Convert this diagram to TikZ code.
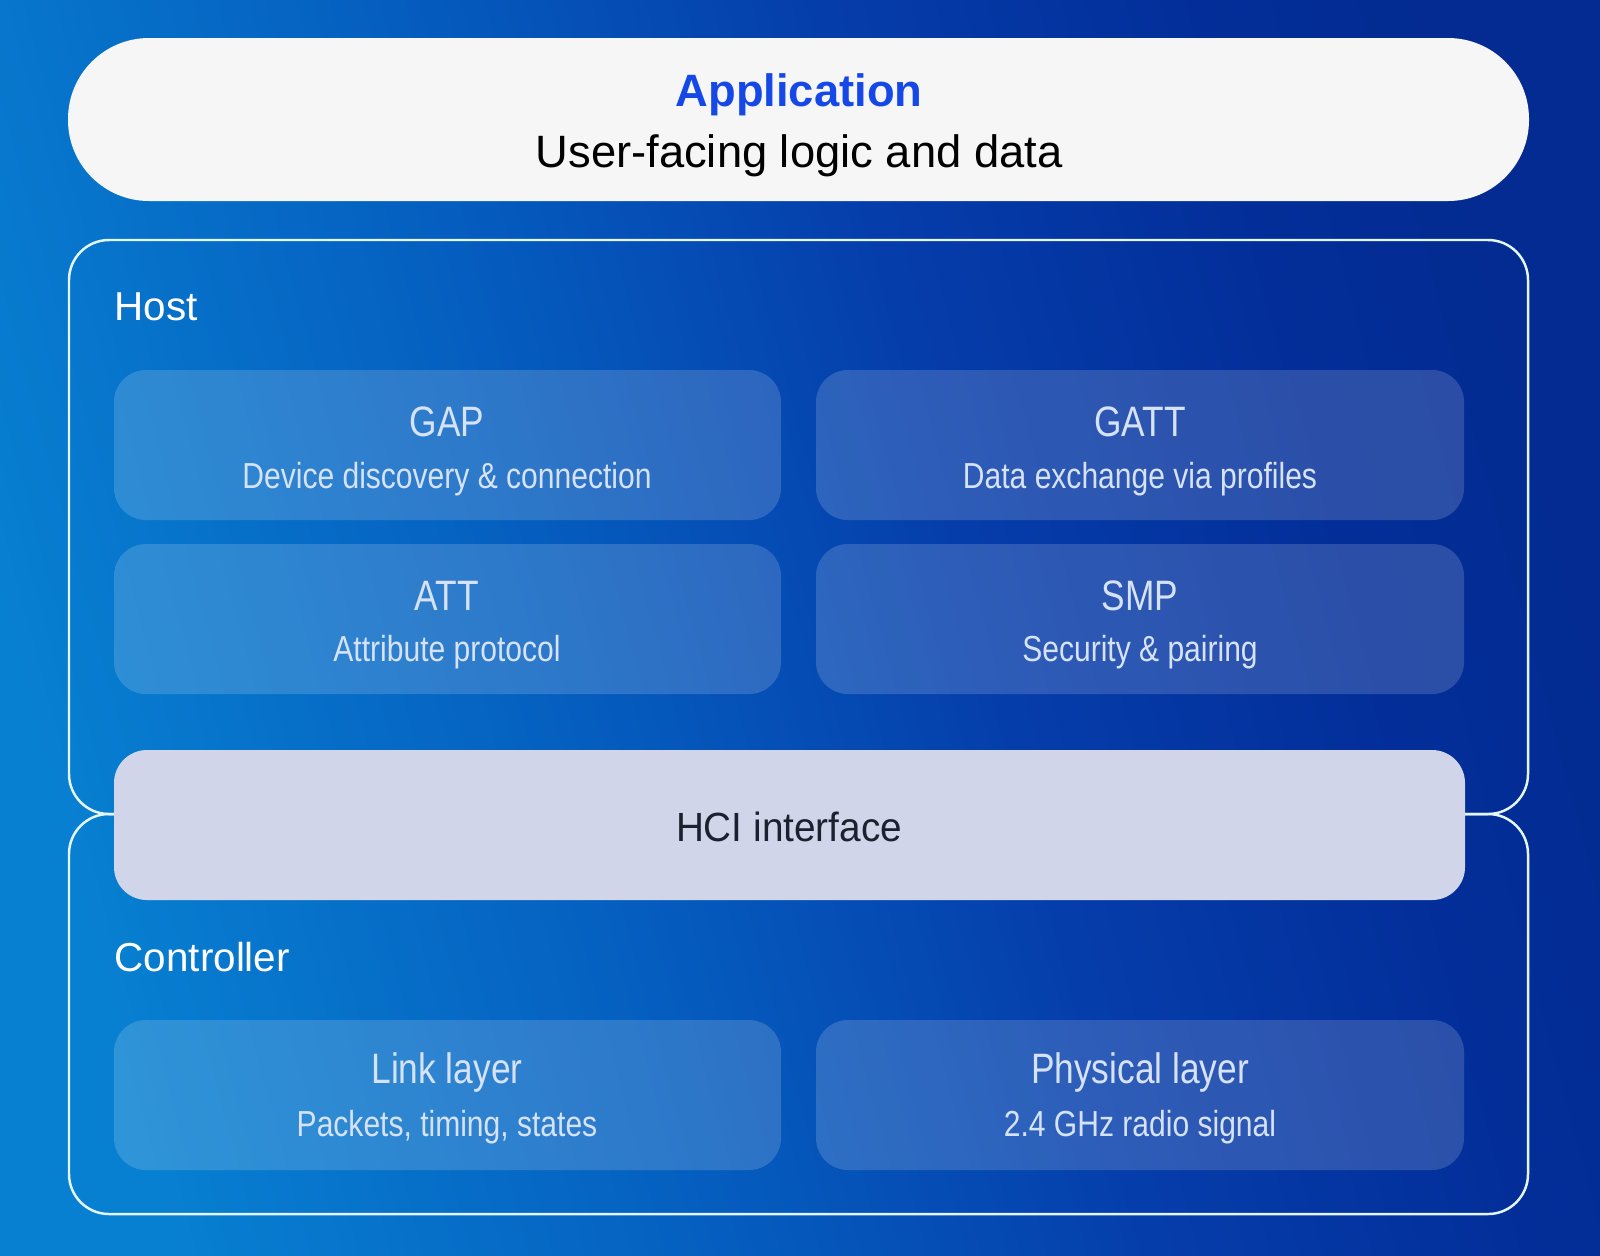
\documentclass[tikz,border=0pt]{standalone}
\usepackage{fontspec}
\setmainfont{Liberation Sans}
\newfontfamily\tightfont[FakeStretch=0.83]{Liberation Sans}
\newfontfamily\hcifont[FakeStretch=0.95]{Liberation Sans}
\usetikzlibrary{positioning}

\definecolor{appblue}{RGB}{22,72,232}
\definecolor{pillgray}{RGB}{246,246,246}
\definecolor{hcigray}{RGB}{208,213,234}
\definecolor{hcitext}{RGB}{28,33,48}
\definecolor{laytext}{RGB}{214,226,248}
\definecolor{edgewhite}{RGB}{228,246,255}

\pgfdeclarehorizontalshading{bgshade}{100bp}{rgb(0bp)=(0.03,0.50,0.82); rgb(25bp)=(0.03,0.50,0.82); rgb(42bp)=(0.02,0.37,0.75); rgb(56bp)=(0.02,0.24,0.67); rgb(68bp)=(0.01,0.18,0.60); rgb(75bp)=(0.01,0.17,0.57); rgb(100bp)=(0.01,0.17,0.57)}

\begin{document}
\begin{tikzpicture}[
    % Node styles
    pill/.style={rectangle, fill=pillgray, rounded corners=8.1mm,
                 minimum width=14.61cm, minimum height=1.63cm, inner sep=0pt},
    frame/.style={draw=edgewhite, line width=0.7pt, rounded corners=4mm},
    layer/.style={rectangle, fill=white, fill opacity=0.16, rounded corners=3.2mm,
                  minimum height=1.5cm, inner sep=0pt},
    hci/.style={rectangle, fill=hcigray, rounded corners=3.3mm,
                minimum width=13.51cm, minimum height=1.5cm, inner sep=0pt},
    ltitle/.style={text=laytext, font=\tightfont\fontsize{12.1}{14}\selectfont},
    lsub/.style={text=laytext, font=\tightfont\fontsize{10.3}{12}\selectfont},
    group/.style={text=white, anchor=west, inner sep=0pt, font=\fontsize{11.5}{13}\selectfont}
]
\useasboundingbox (0,0) rectangle (16,-12.55);

% Background
\shade[shading=bgshade, shading angle=15] (0,0) rectangle (16,-12.55);

% Application
\node[pill] (app) at (7.985,-1.195) {};
\node[text=appblue, font=\bfseries\fontsize{12.9}{15}\selectfont] (appT) at (7.99,-0.95) {Application};
\node[text=black, font=\fontsize{12.9}{15}\selectfont] (appS) at (7.99,-1.56) {User-facing logic and data};

% Host and Controller frames
\draw[frame] (0.69,-2.40) rectangle (15.28,-8.14);
\draw[frame] (0.69,-8.14) rectangle (15.28,-12.14);
\node[group] (host) at (1.14,-3.07) {Host};
\node[group] (ctrl) at (1.14,-9.57) {Controller};

% Host layers
\node[layer, minimum width=6.67cm] (gap) at (4.475,-4.45) {};
\node[layer, minimum width=6.48cm] (gatt) at (11.40,-4.45) {};
\node[layer, minimum width=6.67cm] (att) at (4.475,-6.19) {};
\node[layer, minimum width=6.48cm] (smp) at (11.40,-6.19) {};

\node[ltitle] (gapT) at (4.47,-4.22) {GAP};
\node[lsub] (gapS) at (4.47,-4.79) {Device discovery \& connection};
\node[ltitle] (gattT) at (11.40,-4.22) {GATT};
\node[lsub] (gattS) at (11.40,-4.79) {Data exchange via profiles};
\node[ltitle] (attT) at (4.47,-5.96) {ATT};
\node[lsub] (attS) at (4.47,-6.52) {Attribute protocol};
\node[ltitle] (smpT) at (11.40,-5.96) {SMP};
\node[lsub] (smpS) at (11.40,-6.52) {Security \& pairing};

% HCI
\node[hci] (hcibox) at (7.895,-8.25) {};
\node[text=hcitext, font=\hcifont\fontsize{11.6}{14}\selectfont] (hciT) at (7.89,-8.27) {HCI interface};

% Controller layers
\node[layer, minimum width=6.67cm] (link) at (4.475,-10.95) {};
\node[layer, minimum width=6.48cm] (phy) at (11.40,-10.95) {};

\node[ltitle] (linkT) at (4.47,-10.72) {Link layer};
\node[lsub] (linkS) at (4.47,-11.27) {Packets, timing, states};
\node[ltitle] (phyT) at (11.40,-10.72) {Physical layer};
\node[lsub] (phyS) at (11.40,-11.27) {2.4 GHz radio signal};

\end{tikzpicture}
\end{document}
